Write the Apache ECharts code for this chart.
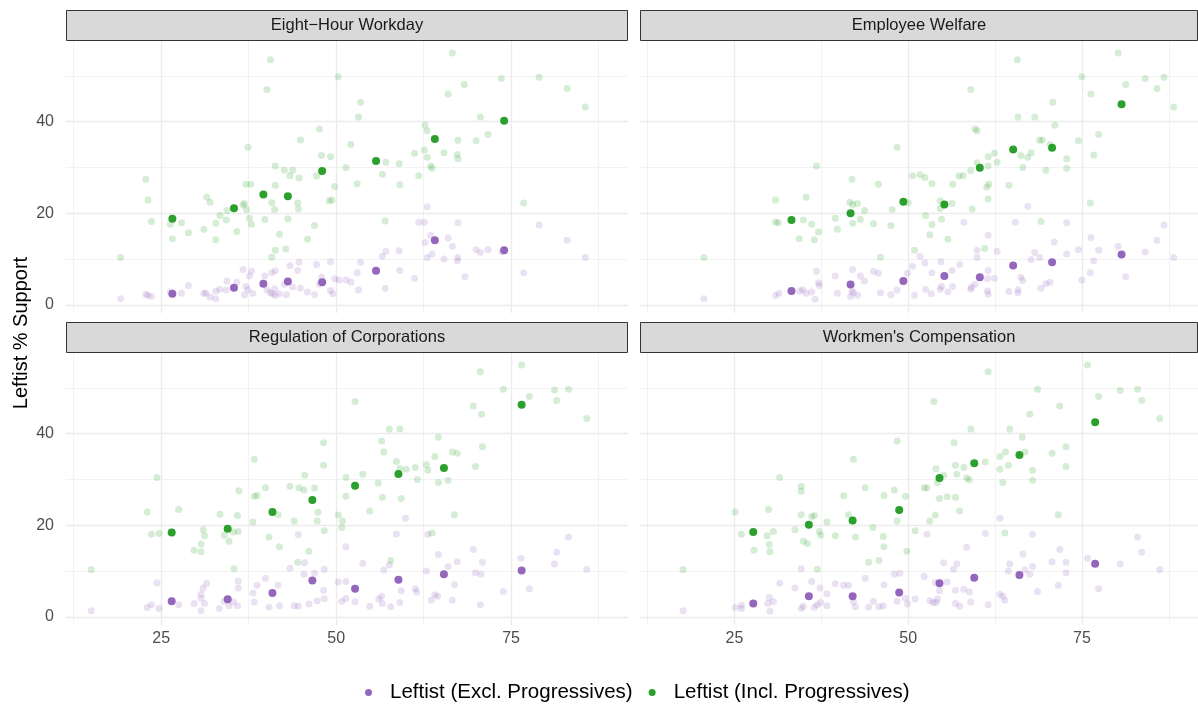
<!DOCTYPE html>
<html><head><meta charset="utf-8">
<script src="https://cdn.jsdelivr.net/npm/echarts@6/dist/echarts.min.js"></script>
<style>html,body{margin:0;padding:0;background:#fff}#c{width:1198px;height:707px}</style>
</head><body><div id="c"></div>
<script>
// ---------- DATA ----------
const PANELS = ["Eight\u2212Hour Workday", "Employee Welfare", "Regulation of Corporations", "Workmen's Compensation"];
const SERIES_NAMES = ["Leftist (Excl. Progressives)", "Leftist (Incl. Progressives)"];
const Y_TITLE = "Leftist % Support";
const X_TICKS = [25, 50, 75];
const X_MINOR = [12.5, 37.5, 62.5, 87.5];
const Y_TICKS = [0, 20, 40];
const Y_MINOR = [10, 30, 50];

// Eight-Hour Workday
const EHW_EXCL = [[19.2,1.3],[22.8,2.3],[23.1,2.1],[23.6,1.8],[26.3,2.8],[27.9,2.5],[28.9,4.2],[31.1,2.5],[31.4,2.5],[32.0,1.7],[32.8,1.3],[32.8,3.0],[33.4,3.4],[34.3,3.2],[34.4,5.2],[35.8,4.9],[36.7,7.7],[37.6,6.3],[37.9,7.3],[37.1,4.0],[37.4,3.3],[36.9,2.2],[38.1,2.5],[39.8,6.3],[40.8,7.0],[41.3,7.4],[40.1,3.3],[40.6,2.6],[40.9,2.4],[41.2,3.5],[41.3,2.0],[41.9,2.4],[42.9,2.2],[42.6,4.5],[43.4,8.5],[44.5,7.5],[44.7,9.3],[43.8,3.9],[44.9,3.6],[45.9,2.8],[46.9,2.2],[47.2,8.8],[49.2,9.4],[47.9,6.0],[47.6,4.5],[49.2,3.1],[49.5,2.4],[49.8,5.7],[50.4,5.4],[51.4,5.4],[52.1,4.9],[53.5,9.3],[53.0,7.0],[53.2,3.2],[57.0,3.6],[56.6,10.6],[57.1,11.7],[59.0,11.8],[59.1,7.5],[61.2,5.8],[63.0,21.4],[61.8,18.0],[62.6,18.0],[67.4,17.9],[63.5,15.2],[62.7,13.6],[66.0,14.6],[66.6,12.8],[63.7,11.1],[63.0,10.3],[65.4,10.0],[67.4,10.3],[67.3,9.6],[68.4,6.1],[70.0,12.0],[70.6,11.4],[71.7,12.0],[73.7,11.6],[76.8,7.0],[79.0,17.4],[83.0,14.1],[85.6,10.3]];
const EHW_INCL = [[40.6,53.5],[40.1,47.0],[50.3,49.8],[47.6,38.4],[44.9,36.0],[37.4,34.4],[47.9,32.6],[49.2,32.3],[41.3,30.3],[42.6,29.4],[43.8,29.4],[43.4,28.2],[44.7,27.7],[47.2,28.1],[22.8,27.4],[37.1,26.3],[37.8,26.3],[41.3,26.1],[49.8,25.8],[23.1,22.9],[31.5,23.5],[32.0,22.4],[36.9,22.1],[36.7,21.8],[37.2,20.8],[40.8,22.3],[41.2,20.8],[44.5,22.2],[44.6,20.9],[49.4,22.9],[49.0,22.7],[33.4,19.5],[34.4,20.6],[34.3,18.5],[23.6,18.2],[26.3,17.6],[27.9,17.9],[28.9,15.7],[31.1,16.5],[32.8,17.8],[37.6,18.9],[37.9,17.6],[39.8,18.6],[43.1,18.8],[46.9,17.3],[35.8,16.0],[41.9,15.4],[26.6,14.4],[32.8,14.2],[45.9,14.3],[41.3,11.9],[42.8,12.2],[40.8,10.4],[19.2,10.3],[66.6,55.0],[73.6,49.4],[79.0,49.7],[68.3,48.1],[83.0,47.2],[66.0,46.0],[53.5,44.2],[85.6,43.2],[53.2,41.0],[70.6,41.0],[62.7,39.2],[63.0,38.0],[71.7,37.2],[52.1,35.0],[67.4,35.9],[70.0,35.8],[61.2,33.1],[62.6,33.8],[63.0,32.2],[65.4,33.2],[67.3,32.8],[67.4,31.9],[57.1,31.1],[59.0,30.8],[51.4,30.0],[63.5,30.3],[63.7,29.8],[56.6,28.5],[61.8,28.2],[53.0,26.4],[59.1,26.2],[76.8,22.2],[57.0,18.3]];
const EHW_EXCL_MEAN = [[26.6,2.4],[35.4,3.7],[39.6,4.6],[43.1,5.1],[48.0,4.9],[55.7,7.4],[64.1,14.1],[74.0,11.9]];
const EHW_INCL_MEAN = [[26.6,18.8],[35.4,21.1],[39.6,24.1],[43.1,23.7],[48.0,29.2],[55.7,31.4],[64.1,36.2],[74.0,40.2]];

// Employee Welfare
const EW_EXCL = [[20.6,1.3],[30.9,2.0],[31.4,2.5],[34.4,3.0],[34.8,3.3],[35.3,2.5],[36.1,2.8],[36.6,1.2],[36.8,7.3],[37.1,4.8],[37.2,4.2],[39.5,6.3],[39.8,2.5],[41.7,1.8],[42.0,7.7],[41.9,3.0],[42.1,2.6],[42.7,2.1],[43.1,6.3],[43.7,5.2],[45.0,7.3],[45.7,6.9],[46.0,2.6],[47.5,2.2],[48.4,3.2],[49.9,6.9],[50.6,8.4],[50.9,2.1],[67.2,21.5],[58.0,18.0],[65.4,18.0],[72.8,17.9],[61.5,15.2],[71.0,13.7],[76.3,14.7],[86.8,17.4],[85.8,14.1],[51.7,10.6],[52.4,9.2],[59.9,11.9],[59.9,10.3],[62.8,11.7],[68.2,11.4],[67.7,9.9],[68.9,10.3],[72.8,11.1],[74.5,12.0],[77.4,11.9],[76.7,9.6],[80.2,12.8],[84.1,11.5],[88.2,10.3],[54.7,9.4],[56.3,7.5],[57.4,8.8],[53.4,7.0],[61.5,7.5],[66.2,6.0],[66.5,5.3],[61.4,5.7],[62.4,5.8],[59.6,4.5],[59.1,3.8],[59.0,3.4],[52.5,3.4],[53.3,2.4],[54.6,3.4],[54.8,4.0],[55.7,2.8],[56.4,4.0],[61.4,3.0],[61.5,2.3],[64.5,2.9],[65.8,3.3],[65.8,2.6],[69.1,3.6],[69.8,4.6],[70.4,4.9],[75.0,5.4],[76.2,7.0],[81.3,6.1]];
const EW_INCL = [[48.4,34.4],[36.8,30.3],[41.9,27.4],[45.7,26.3],[50.6,28.2],[30.9,22.9],[35.3,23.5],[41.6,22.4],[42.0,21.9],[42.7,22.1],[43.7,20.6],[47.7,20.8],[50.0,22.3],[39.5,18.9],[30.9,18.1],[31.3,17.9],[34.9,18.5],[36.1,17.6],[37.1,15.9],[39.8,16.5],[34.3,14.4],[36.5,14.2],[42.0,17.8],[43.1,18.6],[45.0,17.7],[47.5,17.3],[46.0,10.4],[50.9,11.9],[20.6,10.3],[80.2,55.0],[65.7,53.5],[75.0,49.8],[84.1,49.4],[86.8,49.7],[81.3,48.1],[85.8,47.2],[76.3,46.0],[88.2,43.2],[59.0,47.0],[70.8,44.2],[65.8,41.0],[68.2,41.0],[71.1,39.2],[59.6,38.4],[59.9,38.0],[77.4,37.2],[74.5,35.8],[68.9,35.9],[69.3,36.0],[70.4,35.0],[76.7,32.7],[72.8,31.9],[62.4,33.1],[61.5,32.3],[62.8,31.1],[59.9,31.0],[61.5,30.3],[66.2,32.6],[67.2,32.2],[67.7,33.2],[66.5,30.0],[69.8,29.4],[72.8,29.8],[59.0,29.3],[57.9,28.2],[57.3,28.1],[51.7,28.4],[52.4,27.8],[53.4,26.5],[56.4,26.3],[61.6,26.3],[61.3,25.7],[64.5,26.1],[61.5,23.1],[54.6,22.7],[54.6,21.0],[56.3,22.1],[59.2,20.9],[76.2,22.2],[52.5,19.5],[53.4,17.5],[54.8,18.7],[53.1,15.3],[55.7,14.3],[69.1,18.2],[61.0,12.3]];
const EW_EXCL_MEAN = [[33.2,3.0],[41.7,4.4],[49.3,5.2],[55.2,6.3],[60.3,6.0],[65.1,8.6],[70.7,9.3],[80.7,11.0]];
const EW_INCL_MEAN = [[33.2,18.5],[41.7,20.0],[49.3,22.5],[55.2,21.9],[60.3,29.9],[65.1,33.9],[70.7,34.3],[80.7,43.8]];

// Regulation of Corporations
const ROC_EXCL = [[15.0,1.3],[23.0,2.0],[23.6,2.6],[24.7,1.8],[24.4,7.4],[27.5,2.6],[29.7,2.9],[30.7,4.0],[30.7,4.9],[31.0,6.3],[31.2,2.9],[31.5,7.3],[30.7,1.3],[33.3,1.8],[34.0,3.4],[34.7,2.4],[35.3,3.3],[35.9,2.4],[36.0,6.3],[36.0,7.8],[38.1,5.2],[38.3,3.2],[38.7,6.9],[39.9,8.4],[40.4,2.1],[41.7,6.9],[41.9,2.4],[43.4,10.6],[44.0,2.4],[44.6,2.3],[44.6,17.9],[45.4,9.3],[45.5,11.8],[46.1,2.8],[46.9,9.5],[47.3,3.5],[48.3,10.4],[48.2,5.8],[48.3,4.0],[50.3,7.6],[50.8,3.4],[59.9,21.5],[58.6,18.1],[63.1,18.0],[51.4,15.3],[64.6,13.6],[69.6,14.7],[83.2,17.4],[81.5,14.1],[76.4,12.8],[81.2,11.5],[85.8,10.3],[53.8,11.7],[57.6,11.3],[56.8,10.2],[62.9,10.0],[66.0,11.0],[67.3,12.0],[70.9,11.9],[69.9,9.6],[70.7,9.3],[51.4,7.7],[59.3,5.7],[61.3,6.1],[61.5,5.4],[66.9,7.0],[73.9,5.5],[77.6,6.1],[51.4,4.0],[52.7,3.3],[54.8,2.3],[56.1,3.9],[56.5,4.5],[56.6,2.9],[57.8,2.2],[59.1,3.1],[63.6,3.6],[64.1,4.8],[64.5,4.5],[66.6,3.6],[70.6,2.6]];
const ROC_INCL = [[48.2,38.0],[38.3,34.4],[48.2,33.1],[24.4,30.4],[45.5,30.9],[36.1,27.5],[39.9,28.2],[43.4,28.5],[44.7,28.2],[45.4,27.7],[46.9,28.1],[38.3,26.3],[38.7,26.5],[23.0,22.9],[27.5,23.4],[33.4,22.4],[35.9,22.1],[41.7,22.3],[47.4,22.8],[50.3,22.2],[50.9,20.9],[44.0,20.9],[47.3,20.9],[38.1,20.7],[23.6,18.0],[24.7,18.2],[31.0,19.0],[31.2,17.7],[34.0,17.8],[35.3,18.5],[36.0,18.6],[48.3,18.8],[50.8,19.5],[40.4,17.4],[34.7,16.5],[30.7,15.9],[30.7,14.2],[41.9,15.3],[29.7,14.5],[46.1,14.3],[44.5,11.9],[35.4,10.5],[15.0,10.3],[76.5,55.0],[70.6,53.5],[73.9,49.7],[81.2,49.5],[83.2,49.7],[77.6,48.1],[81.5,47.2],[52.7,47.0],[69.6,46.0],[70.8,44.2],[85.8,43.3],[57.6,41.0],[59.1,41.0],[64.6,39.2],[56.5,38.4],[70.9,37.1],[56.8,36.0],[66.6,36.0],[67.3,35.7],[64.1,35.0],[58.6,33.9],[69.9,32.8],[59.1,32.4],[60.0,32.2],[61.3,32.6],[62.9,33.2],[63.1,32.0],[53.8,31.1],[51.4,30.4],[61.6,30.0],[56.0,29.2],[64.6,29.3],[66.0,29.8],[51.4,26.3],[56.6,26.1],[59.3,25.8],[54.8,23.1],[66.9,22.3],[63.7,18.3],[57.8,12.3]];
const ROC_EXCL_MEAN = [[26.5,3.4],[34.5,3.8],[40.9,5.2],[46.6,7.9],[52.7,6.1],[58.9,8.1],[65.4,9.3],[76.5,10.1]];
const ROC_INCL_MEAN = [[26.5,18.4],[34.5,19.2],[40.9,22.9],[46.6,25.5],[52.7,28.6],[58.9,31.2],[65.4,32.5],[76.5,46.3]];

// Workmen's Compensation
const WC_EXCL = [[17.6,1.3],[25.1,2.0],[26.0,2.5],[26.0,1.8],[29.8,2.9],[30.0,4.2],[30.1,1.2],[30.6,3.3],[31.5,7.3],[33.7,6.3],[34.6,10.5],[34.6,1.8],[34.9,2.3],[36.1,7.7],[36.5,2.1],[36.9,2.6],[37.3,6.3],[37.4,3.1],[38.3,5.0],[38.3,2.4],[39.5,7.2],[40.7,6.9],[41.4,6.9],[42.1,3.3],[42.4,2.2],[43.8,8.4],[44.3,2.1],[45.0,3.4],[45.8,2.2],[46.4,2.4],[46.5,7.0],[48.0,9.3],[48.8,9.5],[48.4,3.4],[49.6,4.0],[49.9,2.8],[51.0,3.9],[63.2,21.5],[52.7,18.0],[61.1,18.2],[67.9,18.0],[58.4,15.2],[66.5,13.7],[71.8,14.7],[83.0,17.4],[83.6,14.1],[75.8,12.8],[80.5,11.5],[86.2,10.3],[55.1,11.8],[57.0,11.6],[56.5,10.4],[64.6,11.5],[64.4,10.0],[66.8,10.2],[67.9,11.0],[67.5,9.3],[70.7,12.0],[72.7,11.9],[72.7,9.6],[71.6,6.9],[77.4,6.1],[52.3,8.8],[53.9,7.5],[55.6,7.6],[54.5,5.7],[56.8,5.8],[58.0,6.0],[58.8,5.4],[63.2,4.9],[63.6,4.5],[63.9,3.6],[68.6,5.5],[53.1,3.5],[53.6,3.1],[54.0,3.1],[54.2,3.9],[56.8,2.9],[57.4,2.3],[59.0,3.2],[61.5,2.6]];
const WC_INCL = [[48.4,38.4],[42.1,34.4],[31.5,30.4],[34.6,28.5],[34.6,27.4],[43.8,28.2],[48.0,27.7],[40.7,26.4],[46.5,26.5],[49.6,26.3],[25.1,22.9],[29.9,23.4],[34.6,22.3],[36.1,21.9],[36.5,22.1],[38.3,20.7],[41.4,22.3],[44.9,19.5],[48.4,20.9],[26.0,18.0],[29.7,17.7],[30.6,18.6],[33.7,19.0],[34.9,16.5],[35.5,16.0],[37.2,18.6],[37.4,17.8],[39.5,17.7],[42.4,17.4],[46.4,17.5],[51.0,18.8],[30.0,15.8],[30.1,14.2],[27.8,14.5],[46.5,15.3],[49.8,14.3],[44.3,11.9],[45.8,12.3],[36.9,10.4],[17.6,10.3],[75.8,55.0],[61.5,53.5],[68.6,49.7],[80.5,49.4],[83.0,49.7],[77.4,48.1],[83.6,47.2],[53.7,47.0],[71.8,46.0],[67.5,44.2],[86.2,43.3],[59.0,41.0],[64.6,41.0],[66.4,39.2],[56.6,38.0],[72.7,37.1],[64.0,36.0],[66.8,36.0],[70.7,35.7],[63.2,35.0],[61.1,33.8],[54.0,32.3],[56.8,33.1],[58.0,32.6],[63.2,32.2],[64.4,33.1],[67.9,32.0],[72.7,32.8],[55.1,30.9],[57.0,31.1],[58.4,30.3],[58.8,29.9],[54.2,29.3],[63.6,29.3],[67.9,29.8],[52.3,28.2],[52.7,28.2],[54.5,25.8],[55.6,26.2],[56.8,26.1],[57.4,23.1],[53.9,22.2],[53.1,20.9],[71.6,22.3],[63.9,18.3]];
const WC_EXCL_MEAN = [[27.7,2.9],[35.7,4.5],[42.0,4.5],[48.7,5.3],[54.5,7.3],[59.5,8.5],[66.0,9.1],[76.9,11.6]];
const WC_INCL_MEAN = [[27.7,18.5],[35.7,20.1],[42.0,21.0],[48.7,23.3],[54.5,30.3],[59.5,33.5],[66.0,35.3],[76.9,42.5]];

// ---------- LAYOUT / STYLE ----------
const X_RANGE = [11.4, 91.7];
const Y_RANGE = [-1.8, 57.6];
const PURPLE = '#9467BD', GREEN = '#2CA02C';
const FONT = "'Liberation Sans', Arial, sans-serif";
const GRIDS = [
  {left: 66, top: 41, width: 562, height: 272},
  {left: 640, top: 41, width: 558, height: 272},
  {left: 66, top: 353, width: 562, height: 272},
  {left: 640, top: 353, width: 558, height: 272}
];
const STRIP_H = 31;
const PANEL_DATA = [
  [EHW_EXCL, EHW_INCL, EHW_EXCL_MEAN, EHW_INCL_MEAN],
  [EW_EXCL, EW_INCL, EW_EXCL_MEAN, EW_INCL_MEAN],
  [ROC_EXCL, ROC_INCL, ROC_EXCL_MEAN, ROC_INCL_MEAN],
  [WC_EXCL, WC_INCL, WC_EXCL_MEAN, WC_INCL_MEAN]
];

const chart = echarts.init(document.getElementById('c'), null, {renderer: 'canvas'});

const grid = GRIDS.map(g => Object.assign({containLabel: false}, g));
const xAxis = GRIDS.map((g, i) => ({
  gridIndex: i, type: 'value', min: X_RANGE[0], max: X_RANGE[1],
  axisLine: {show: false}, axisTick: {show: false}, splitLine: {show: false},
  axisLabel: {show: i >= 2, customValues: X_TICKS, color: '#4D4D4D', fontSize: 16, fontFamily: FONT, margin: 6}
}));
const yAxis = GRIDS.map((g, i) => ({
  gridIndex: i, type: 'value', min: Y_RANGE[0], max: Y_RANGE[1],
  axisLine: {show: false}, axisTick: {show: false}, splitLine: {show: false},
  axisLabel: {show: i % 2 === 0, customValues: Y_TICKS, color: '#4D4D4D', fontSize: 16, fontFamily: FONT, margin: 12}
}));

const series = [];
GRIDS.forEach((g, i) => {
  const major = {width: 1.3, color: '#EBEBEB', type: 'solid'};
  const minor = {width: 0.65, color: '#EBEBEB', type: 'solid'};
  series.push({
    type: 'scatter', xAxisIndex: i, yAxisIndex: i, data: [], silent: true, z: 0,
    markLine: {
      silent: true, symbol: ['none', 'none'], label: {show: false}, z: 0, animation: false,
      emphasis: {disabled: true},
      data: [].concat(
        X_MINOR.map(v => ({xAxis: v, lineStyle: minor})),
        Y_MINOR.map(v => ({yAxis: v, lineStyle: minor})),
        X_TICKS.map(v => ({xAxis: v, lineStyle: major})),
        Y_TICKS.map(v => ({yAxis: v, lineStyle: major}))
      )
    }
  });
  const [excl, incl, exclM, inclM] = PANEL_DATA[i];
  series.push({name: SERIES_NAMES[0], type: 'scatter', xAxisIndex: i, yAxisIndex: i, data: excl,
    symbolSize: 7, itemStyle: {color: PURPLE, opacity: 0.2}, z: 2, silent: true});
  series.push({name: SERIES_NAMES[1], type: 'scatter', xAxisIndex: i, yAxisIndex: i, data: incl,
    symbolSize: 7, itemStyle: {color: GREEN, opacity: 0.2}, z: 2, silent: true});
  series.push({name: SERIES_NAMES[0], type: 'scatter', xAxisIndex: i, yAxisIndex: i, data: exclM,
    symbolSize: 8, itemStyle: {color: PURPLE, opacity: 1}, z: 3, silent: true});
  series.push({name: SERIES_NAMES[1], type: 'scatter', xAxisIndex: i, yAxisIndex: i, data: inclM,
    symbolSize: 8, itemStyle: {color: GREEN, opacity: 1}, z: 3, silent: true});
});

const graphic = [];
GRIDS.forEach((g, i) => {
  graphic.push({type: 'rect', silent: true, z: 10,
    shape: {x: g.left + 0.5, y: g.top - STRIP_H + 0.5, width: g.width - 1, height: STRIP_H - 1},
    style: {fill: '#D9D9D9', stroke: '#333333', lineWidth: 1}});
  graphic.push({type: 'text', silent: true, z: 11,
    x: g.left + g.width / 2, y: g.top - STRIP_H / 2,
    style: {text: PANELS[i], fill: '#1A1A1A', font: "16.5px " + FONT, textAlign: 'center', textVerticalAlign: 'middle'}});
});
graphic.push({type: 'text', silent: true, x: 21, y: 333, rotation: Math.PI / 2,
  style: {text: Y_TITLE, fill: '#000', font: "20px " + FONT, textAlign: 'center', textVerticalAlign: 'middle'}});

chart.setOption({
  animation: false,
  backgroundColor: '#fff',
  grid, xAxis, yAxis, series, graphic,
  legend: {
    left: 360, top: 677, itemWidth: 7, itemHeight: 7, itemGap: 16, icon: 'circle', selectedMode: false,
    textStyle: {fontSize: 20.5, color: '#000', fontFamily: FONT, padding: [0, 0, 0, 13]},
    data: [
      {name: SERIES_NAMES[0], itemStyle: {color: PURPLE, opacity: 1}},
      {name: SERIES_NAMES[1], itemStyle: {color: GREEN, opacity: 1}}
    ]
  }
});
</script>
</body></html>
